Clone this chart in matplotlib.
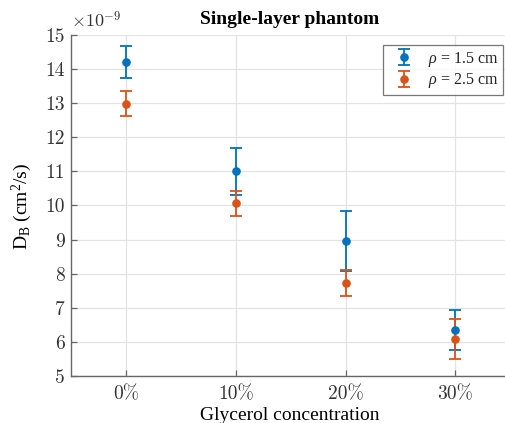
import matplotlib
matplotlib.use("Agg")
import matplotlib.pyplot as plt
import numpy as np

plt.rcParams['mathtext.fontset'] = 'custom'
plt.rcParams['mathtext.rm'] = 'Liberation Serif'
plt.rcParams['mathtext.it'] = 'Liberation Serif:italic'

# Glycerol concentrations and diffusion coefficients (x 1e-9 cm^2/s)
categories = ['0%', '10%', '20%', '30%']
db_rho15 = [14.21, 11.00, 8.96, 6.35]
err_rho15 = [0.48, 0.68, 0.88, 0.59]
db_rho25 = [12.99, 10.06, 7.74, 6.08]
err_rho25 = [0.36, 0.36, 0.38, 0.59]
yticks = [5, 6, 7, 8, 9, 10, 11, 12, 13, 14, 15]
series_labels = [r'$\rho$ = 1.5 cm', r'$\rho$ = 2.5 cm']

blue = '#0072BD'
orange = '#D95319'
axis_col = '#666666'

fig = plt.figure(figsize=(5.06, 4.23), dpi=100)
ax = fig.add_axes([71.5 / 506, 1 - 376 / 423, 438.8 / 506, 341 / 423])

x = np.arange(len(categories))
for vals, errs, col, lab in [(db_rho15, err_rho15, blue, series_labels[0]),
                             (db_rho25, err_rho25, orange, series_labels[1])]:
    ax.errorbar(x, vals, yerr=errs, fmt='o', color=col, ecolor=col,
                markersize=5.2, elinewidth=1.3, capsize=4, capthick=1.3,
                label=lab, zorder=3)

ax.set_xlim(-0.5, 3.5)
ax.set_ylim(5, 15)
ax.set_xticks(x)
ax.set_xticklabels(categories)
ax.set_yticks(yticks)
ax.set_yticklabels([str(t) for t in yticks])
for lbl in ax.get_xticklabels() + ax.get_yticklabels():
    lbl.set_fontfamily('cmr10')
    lbl.set_fontsize(14)
    lbl.set_color('#333333')

ax.grid(True, color='#e3e3e3', linewidth=0.9, zorder=0)
ax.set_axisbelow(True)
for s in ['top', 'right']:
    ax.spines[s].set_visible(False)
for s in ['left', 'bottom']:
    ax.spines[s].set_color(axis_col)
    ax.spines[s].set_linewidth(1.0)
ax.tick_params(direction='in', length=4, width=0.9, color=axis_col, pad=5)
ax.tick_params(axis='x', pad=7)

ax.text(0.0, 1.012, r'$\times10^{-9}$', transform=ax.transAxes,
        fontsize=13, math_fontfamily='cm', color='#333333',
        ha='left', va='bottom')

ax.set_title('Single-layer phantom', fontfamily='Liberation Serif',
             fontweight='bold', fontsize=14, pad=8, x=(290 - 71.5) / 438.8)
ax.set_xlabel('Glycerol concentration', fontfamily='Liberation Serif',
              fontsize=14)
ax.xaxis.set_label_coords((290 - 71.5) / 438.8, -0.09)
ax.set_ylabel(r'D$_\mathrm{B}$ (cm$^2$/s)', fontfamily='Liberation Serif',
              fontsize=14)
ax.yaxis.set_label_coords(-37.5 / 438.8, (376 - 206) / 341)

leg = ax.legend(loc='upper left', bbox_to_anchor=((383 - 71.5) / 438.8, (376 - 45) / 341),
                prop={'family': 'Liberation Serif', 'size': 11.5},
                frameon=True, fancybox=False, edgecolor='#555555',
                borderpad=0.3, handlelength=2.0, handletextpad=0.5,
                labelspacing=0.15, borderaxespad=0)
leg.get_frame().set_linewidth(0.9)
for t in leg.get_texts():
    t.set_color('#222222')

fig.savefig('out.png', dpi=100)
